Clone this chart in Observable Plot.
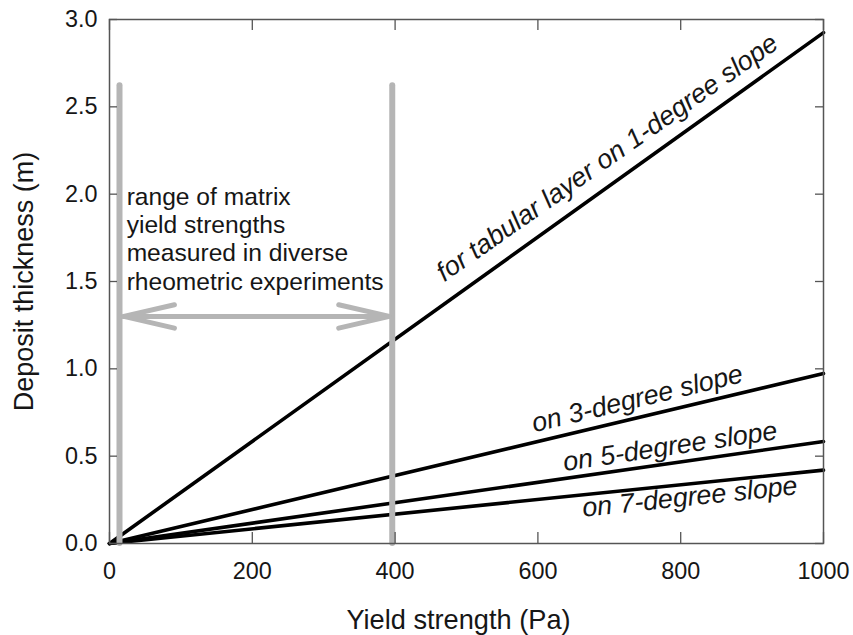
<!DOCTYPE html>
<html><head><meta charset="utf-8">
<script src="https://cdn.jsdelivr.net/npm/d3@7"></script>
<script src="https://cdn.jsdelivr.net/npm/@observablehq/plot@0.6"></script>
<style>body{margin:0;background:#fff;} svg{display:block;}</style>
</head><body><div id="chart"></div>
<script>
// --- data ---
const yieldStrength = [0, 1000];                 // Pa (line end points)
const slopeNames = ["1-degree", "3-degree", "5-degree", "7-degree"];
const thicknessAt0 = [0, 0, 0, 0];               // m at 0 Pa
const thicknessAt1000 = [2.925, 0.973, 0.584, 0.42]; // m at 1000 Pa
const lineLabels = ["for tabular layer on 1-degree slope", "on 3-degree slope", "on 5-degree slope", "on 7-degree slope"];
const labelX = [704, 742, 787, 814];
const labelY = [2.169, 0.781, 0.507, 0.2175];
const labelAngle = [-35, -13.5, -8.5, -6];
const rangeBounds = [14, 396];                   // Pa, grey range lines
const rangeTop = 2.62;
const arrowY = 1.3;
const arrowEnds = [20, 392];
const rangeText = "range of matrix\nyield strengths\nmeasured in diverse\nrheometric experiments";
const rangeTextPos = [24, 1.454];
const xTicks = [0, 200, 400, 600, 800, 1000];
const yTicks = [0, 0.5, 1, 1.5, 2, 2.5, 3];
const xTitle = "Yield strength (Pa)";
const yTitle = "Deposit thickness (m)";

// --- build tables ---
const lineData = slopeNames.flatMap((s, i) => [
  {slope: s, x: yieldStrength[0], y: thicknessAt0[i]},
  {slope: s, x: yieldStrength[1], y: thicknessAt1000[i]}
]);
const labelData = lineLabels.map((t, i) => ({text: t, x: labelX[i], y: labelY[i], r: labelAngle[i]}));
const arrowData = [
  {x1: arrowEnds[1], x2: arrowEnds[0]},
  {x1: arrowEnds[0], x2: arrowEnds[1]}
];

const W = 853, H = 635, mt = 19, mr = 30, mb = 92, ml = 109;
const fw = W - ml - mr, fh = H - mt - mb;
const axisColor = "#555";
const textColor = "#161616";

const chart = Plot.plot({
  width: W, height: H,
  marginTop: mt, marginRight: mr, marginBottom: mb, marginLeft: ml,
  style: {fontFamily: "'Liberation Sans', Arial, sans-serif", fontSize: "23px", color: textColor, background: "#fff"},
  x: {domain: [0, 1000], label: null},
  y: {domain: [0, 3], label: null},
  marks: [
    Plot.line(lineData, {x: "x", y: "y", z: "slope", stroke: "#000", strokeWidth: 3.6}),
    Plot.ruleX(rangeBounds, {x: d => d, y1: 0, y2: rangeTop, stroke: "#b5b5b5", strokeWidth: 6, strokeLinecap: "round"}),
    Plot.arrow(arrowData, {x1: "x1", x2: "x2", y1: arrowY, y2: arrowY, stroke: "#b5b5b5", strokeWidth: 5, headLength: 15.6, headAngle: 26}),
    Plot.text([rangeText], {x: rangeTextPos[0], y: rangeTextPos[1], text: d => d, textAnchor: "start", lineAnchor: "bottom", lineHeight: 1.15, fontSize: 24.6, fill: textColor}),
    Plot.text(labelData, {x: "x", y: "y", text: "text", rotate: "r", textAnchor: "middle", lineAnchor: "bottom", fontSize: 26.8, fontStyle: "italic", fill: textColor}),
    // inward ticks on all four sides
    Plot.tickX(xTicks, {x: d => d, insetTop: fh - 11, stroke: axisColor, strokeWidth: 1.3}),
    Plot.tickX(xTicks, {x: d => d, insetBottom: fh - 11, stroke: axisColor, strokeWidth: 1.3}),
    Plot.tickY(yTicks, {y: d => d, insetRight: fw - 8, stroke: axisColor, strokeWidth: 1.3}),
    Plot.tickY(yTicks, {y: d => d, insetLeft: fw - 8, stroke: axisColor, strokeWidth: 1.3}),
    Plot.frame({stroke: axisColor, strokeWidth: 1.5}),
    Plot.axisX({ticks: xTicks, tickSize: 0, tickPadding: 19, tickFormat: d3.format("d"), label: null, fontSize: 23.4}),
    Plot.axisY({ticks: yTicks, tickSize: 0, tickPadding: 12, tickFormat: d3.format(".1f"), label: null, fontSize: 23.4}),
    Plot.text([xTitle], {frameAnchor: "bottom", text: d => d, textAnchor: "middle", dx: -8, dy: 85, lineAnchor: "bottom", fontSize: 27.2, fill: textColor}),
    Plot.text([yTitle], {frameAnchor: "left", text: d => d, textAnchor: "middle", rotate: -90, dx: -77, lineAnchor: "bottom", fontSize: 27, fill: textColor})
  ]
});
document.getElementById("chart").appendChild(chart);
</script>
</body></html>
